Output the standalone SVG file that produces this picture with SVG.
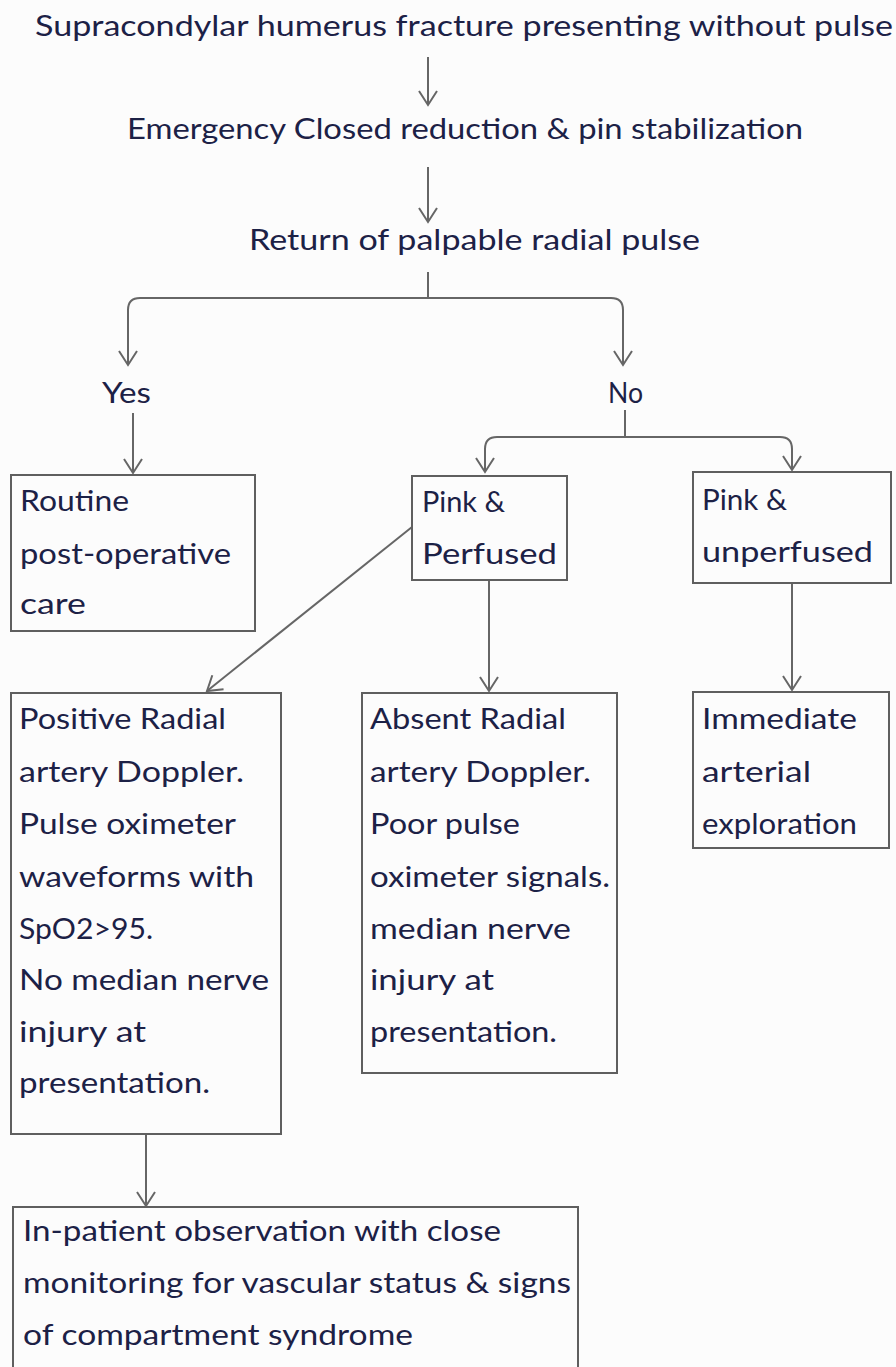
<svg xmlns="http://www.w3.org/2000/svg" width="896" height="1367" viewBox="0 0 896 1367">
<defs>
<style>
.t{font-family:Lato,"Open Sans","Liberation Sans",sans-serif;font-size:28px;fill:#1c2146;}
.box{fill:none;stroke:#5f5f5f;stroke-width:2;}
.ln{fill:none;stroke:#666;stroke-width:2;}
</style>
<marker id="ah" viewBox="-16 -12 20 24" markerWidth="20" markerHeight="24" refX="0" refY="0" orient="auto" markerUnits="userSpaceOnUse">
<path d="M-14,-9 L0,0 L-14,9" fill="none" stroke="#666" stroke-width="2"/>
</marker>
</defs>
<rect x="0" y="0" width="896" height="1367" fill="#fcfcfc"/>

<g id="connectors">
<line class="ln" x1="428" y1="57" x2="428" y2="105" marker-end="url(#ah)"/>
<line class="ln" x1="428" y1="167" x2="428" y2="222" marker-end="url(#ah)"/>
<line class="ln" x1="428" y1="272" x2="428" y2="298"/>
<path class="ln" d="M428,298 H140 Q128,298 128,310 V365" marker-end="url(#ah)"/>
<path class="ln" d="M428,298 H611 Q623,298 623,310 V365" marker-end="url(#ah)"/>
<line class="ln" x1="133" y1="413" x2="133" y2="473" marker-end="url(#ah)"/>
<line class="ln" x1="625" y1="410" x2="625" y2="437"/>
<path class="ln" d="M625,437 H497 Q485,437 485,449 V472" marker-end="url(#ah)"/>
<path class="ln" d="M625,437 H780 Q792,437 792,449 V470" marker-end="url(#ah)"/>
<line class="ln" x1="412" y1="527" x2="207" y2="691" marker-end="url(#ah)"/>
<line class="ln" x1="489" y1="580" x2="489" y2="691" marker-end="url(#ah)"/>
<line class="ln" x1="792" y1="583" x2="792" y2="690" marker-end="url(#ah)"/>
<line class="ln" x1="146" y1="1134" x2="146" y2="1206" marker-end="url(#ah)"/>
</g>

<g id="n-start">
<text class="t" x="35" y="36" textLength="858" lengthAdjust="spacingAndGlyphs">Supracondylar humerus fracture presenting without pulse</text>
</g>
<g id="n-reduction">
<text class="t" x="127" y="139" textLength="676" lengthAdjust="spacingAndGlyphs">Emergency Closed reduction &amp; pin stabilization</text>
</g>
<g id="n-return">
<text class="t" x="249" y="250" textLength="451" lengthAdjust="spacingAndGlyphs">Return of palpable radial pulse</text>
</g>
<g id="n-yes">
<text class="t" x="102" y="403" textLength="49" lengthAdjust="spacingAndGlyphs">Yes</text>
</g>
<g id="n-no">
<text class="t" x="608" y="403" textLength="35" lengthAdjust="spacingAndGlyphs">No</text>
</g>
<g id="n-routine">
<rect class="box" x="11" y="475" width="244" height="156"/>
<text class="t" x="20" y="511" textLength="109" lengthAdjust="spacingAndGlyphs">Routine</text>
<text class="t" x="20" y="564" textLength="211" lengthAdjust="spacingAndGlyphs">post-operative</text>
<text class="t" x="20" y="614" textLength="66" lengthAdjust="spacingAndGlyphs">care</text>
</g>
<g id="n-pink-perfused">
<rect class="box" x="412" y="476" width="155" height="104"/>
<text class="t" x="422" y="512" textLength="83" lengthAdjust="spacingAndGlyphs">Pink &amp;</text>
<text class="t" x="422" y="564" textLength="135" lengthAdjust="spacingAndGlyphs">Perfused</text>
</g>
<g id="n-pink-unperfused">
<rect class="box" x="693" y="472" width="198" height="111"/>
<text class="t" x="702" y="510" textLength="85" lengthAdjust="spacingAndGlyphs">Pink &amp;</text>
<text class="t" x="702" y="562" textLength="171" lengthAdjust="spacingAndGlyphs">unperfused</text>
</g>
<g id="n-positive">
<rect class="box" x="11" y="693" width="270" height="441"/>
<text class="t" x="19" y="729" textLength="207" lengthAdjust="spacingAndGlyphs">Positive Radial</text>
<text class="t" x="19" y="782" textLength="225" lengthAdjust="spacingAndGlyphs">artery Doppler.</text>
<text class="t" x="19" y="834" textLength="217" lengthAdjust="spacingAndGlyphs">Pulse oximeter</text>
<text class="t" x="19" y="887" textLength="235" lengthAdjust="spacingAndGlyphs">waveforms with</text>
<text class="t" x="19" y="939" textLength="134" lengthAdjust="spacingAndGlyphs">SpO2&gt;95.</text>
<text class="t" x="19" y="990" textLength="250" lengthAdjust="spacingAndGlyphs">No median nerve</text>
<text class="t" x="19" y="1042" textLength="127" lengthAdjust="spacingAndGlyphs">injury at</text>
<text class="t" x="19" y="1093" textLength="191" lengthAdjust="spacingAndGlyphs">presentation.</text>
</g>
<g id="n-absent">
<rect class="box" x="362" y="693" width="255" height="380"/>
<text class="t" x="370" y="729" textLength="196" lengthAdjust="spacingAndGlyphs">Absent Radial</text>
<text class="t" x="370" y="782" textLength="221" lengthAdjust="spacingAndGlyphs">artery Doppler.</text>
<text class="t" x="370" y="834" textLength="150" lengthAdjust="spacingAndGlyphs">Poor pulse</text>
<text class="t" x="370" y="887" textLength="240" lengthAdjust="spacingAndGlyphs">oximeter signals.</text>
<text class="t" x="370" y="939" textLength="201" lengthAdjust="spacingAndGlyphs">median nerve</text>
<text class="t" x="370" y="990" textLength="124" lengthAdjust="spacingAndGlyphs">injury at</text>
<text class="t" x="370" y="1042" textLength="187" lengthAdjust="spacingAndGlyphs">presentation.</text>
</g>
<g id="n-immediate">
<rect class="box" x="693" y="692" width="196" height="156"/>
<text class="t" x="702" y="729" textLength="155" lengthAdjust="spacingAndGlyphs">Immediate</text>
<text class="t" x="702" y="782" textLength="109" lengthAdjust="spacingAndGlyphs">arterial</text>
<text class="t" x="702" y="834" textLength="155" lengthAdjust="spacingAndGlyphs">exploration</text>
</g>
<g id="n-inpatient">
<rect class="box" x="13" y="1207" width="565" height="175"/>
<text class="t" x="23" y="1241" textLength="478" lengthAdjust="spacingAndGlyphs">In-patient observation with close</text>
<text class="t" x="23" y="1293" textLength="548" lengthAdjust="spacingAndGlyphs">monitoring for vascular status &amp; signs</text>
<text class="t" x="23" y="1345" textLength="390" lengthAdjust="spacingAndGlyphs">of compartment syndrome</text>
</g>
</svg>
